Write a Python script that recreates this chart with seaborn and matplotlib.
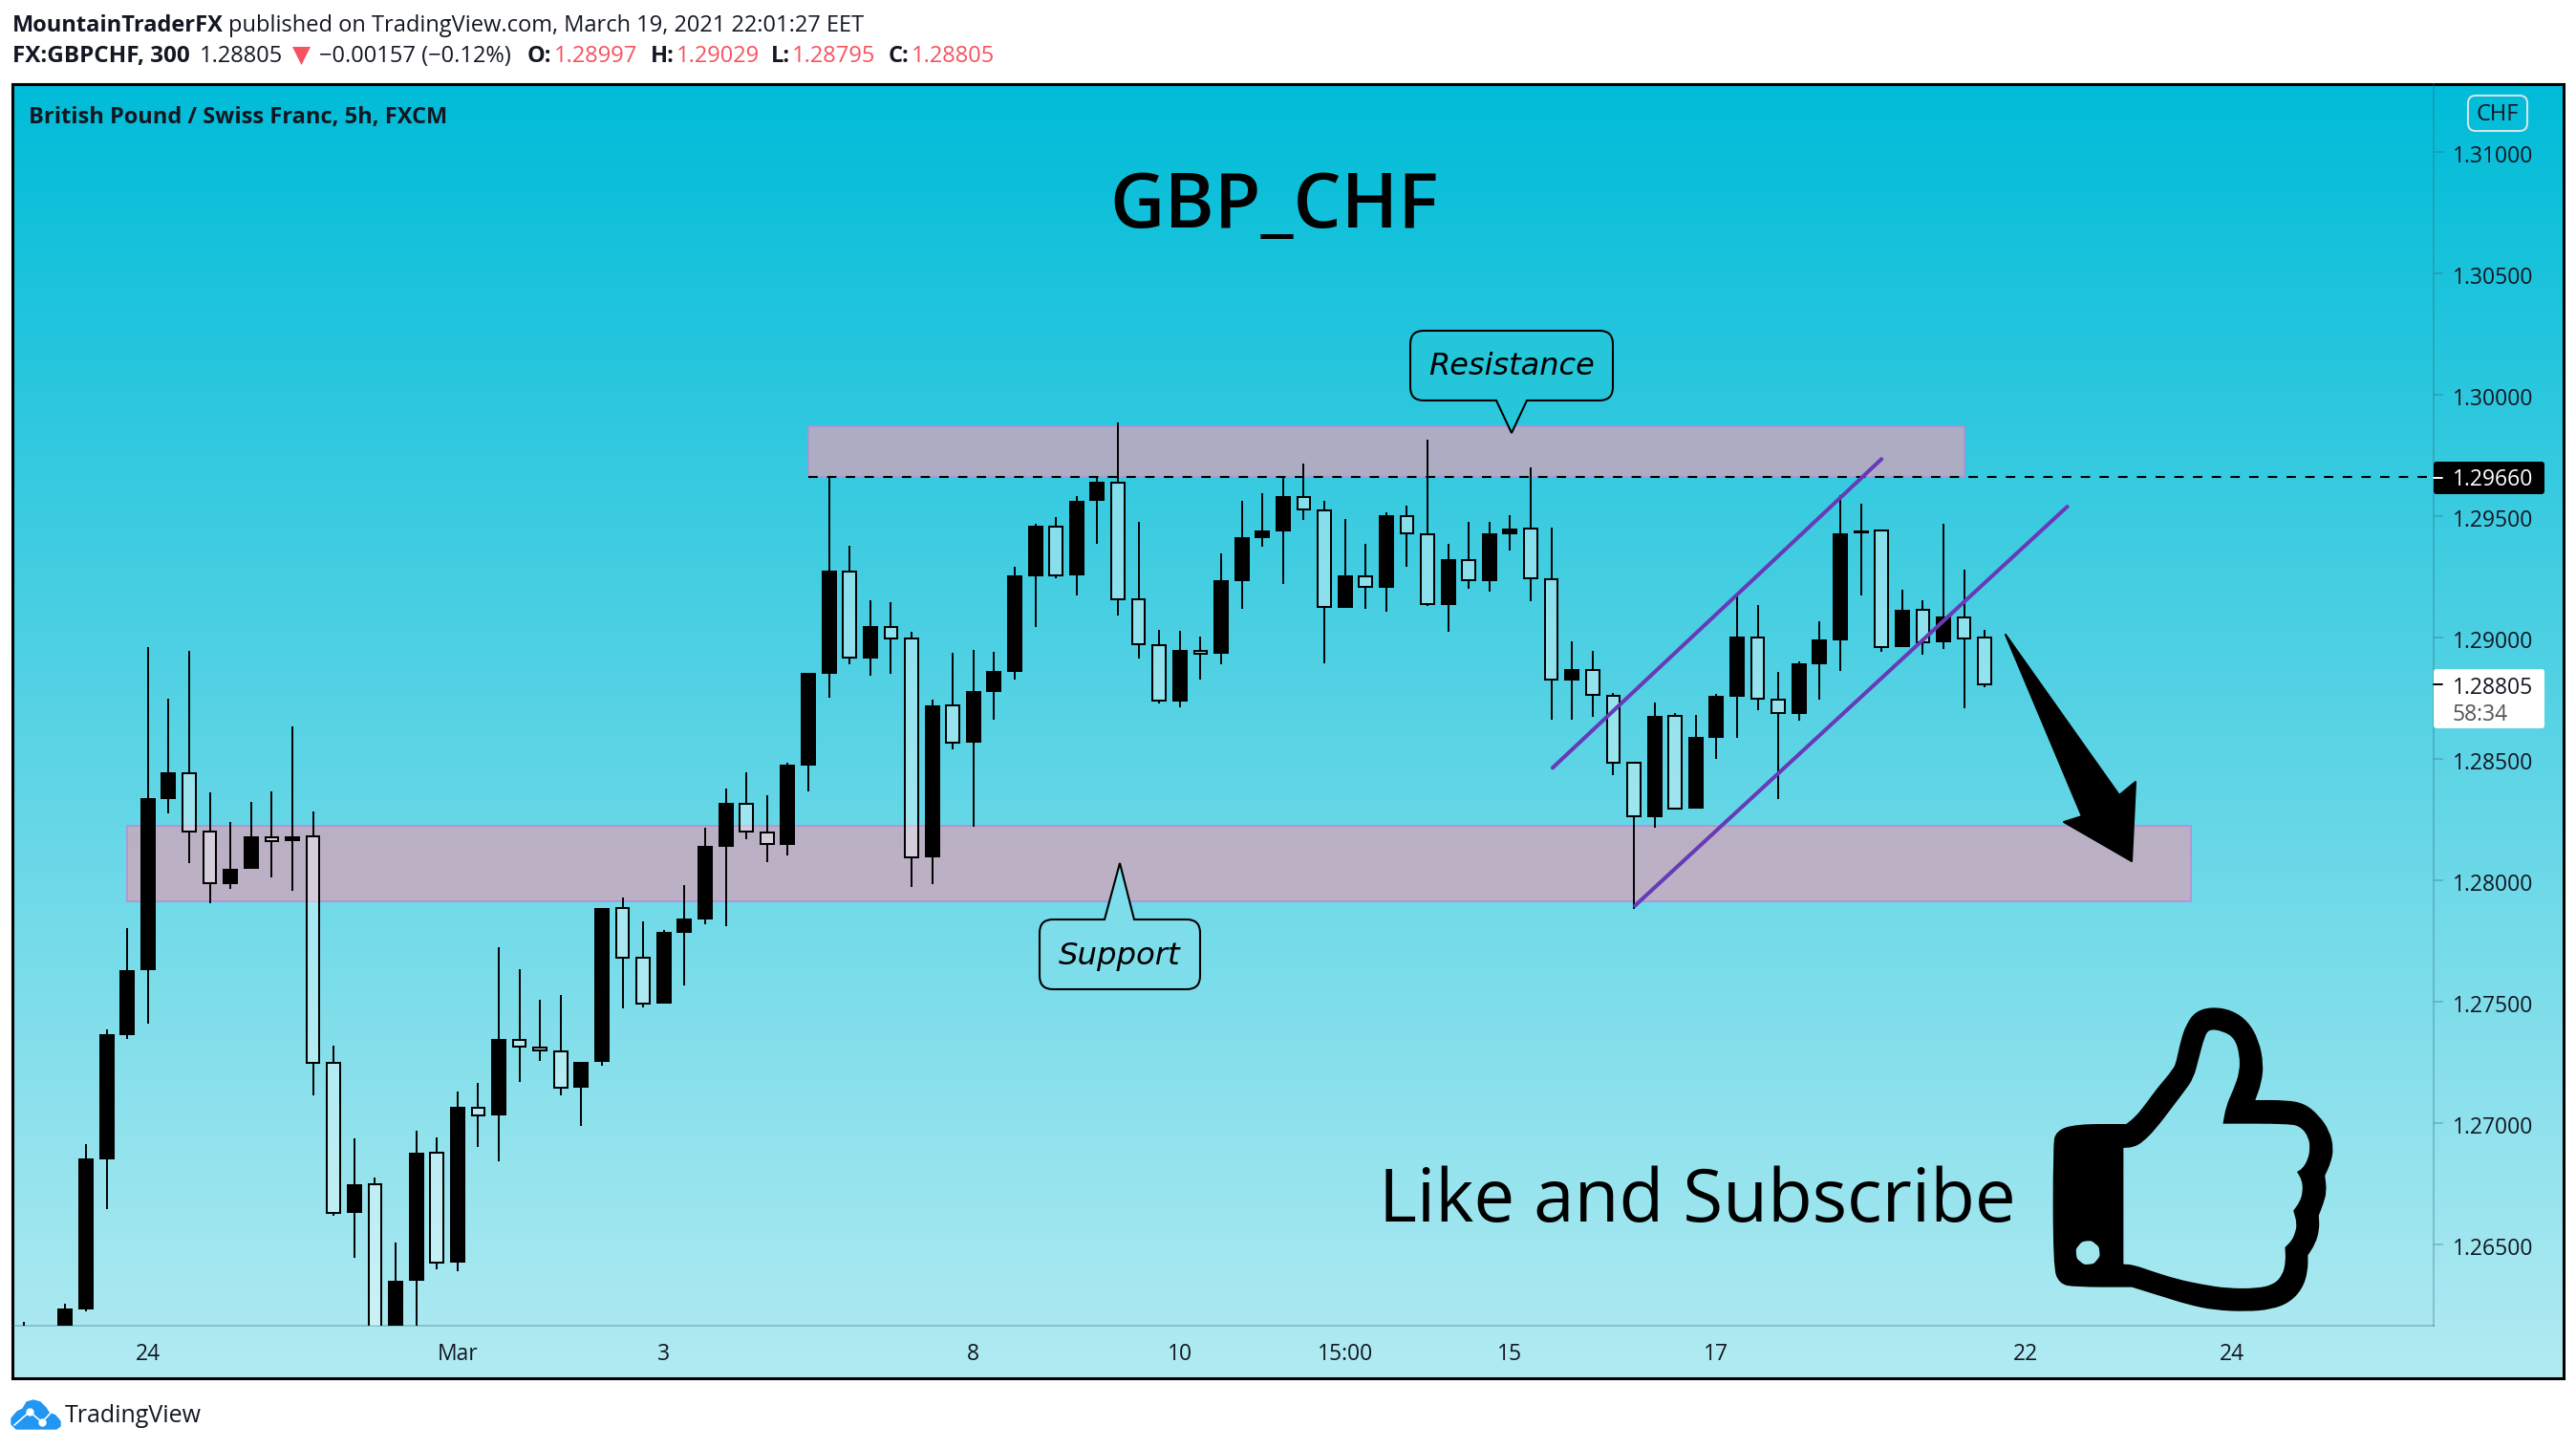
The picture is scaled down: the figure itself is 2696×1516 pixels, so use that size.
import numpy as np
import pandas as pd
import seaborn as sns
import matplotlib.pyplot as plt
from matplotlib.patches import FancyBboxPatch, PathPatch, Rectangle, Polygon
from matplotlib.path import Path
from matplotlib.transforms import ScaledTranslation

# bars of the 5h chart, index 0 is the bar under the "24" tick
first_bar = -6
opens = [1.2600, 1.2605, 1.2610, 1.26233, 1.26849, 1.27362, 1.27627, 1.28335, 1.28441, 1.28198, 1.27985, 1.28048,
         1.28177, 1.28159, 1.28179, 1.27245, 1.26628, 1.26746, 1.2605, 1.26348, 1.26875, 1.26423, 1.27063, 1.27029,
         1.27343, 1.2731, 1.27296, 1.27143, 1.27249, 1.27883, 1.27678, 1.2749, 1.27783, 1.27837, 1.28136, 1.28315,
         1.28197, 1.28146, 1.28472, 1.2885, 1.29272, 1.28914, 1.29043, 1.28994, 1.28094, 1.28718, 1.28564, 1.28774,
         1.28857, 1.29251, 1.29456, 1.29254, 1.2956, 1.29638, 1.29158, 1.28968, 1.28737, 1.28945, 1.2893, 1.29233,
         1.2941, 1.29437, 1.29579, 1.29524, 1.29122, 1.29251, 1.29205, 1.295, 1.29425, 1.29134, 1.29319, 1.29233,
         1.29425, 1.29447, 1.2924, 1.28821, 1.28866, 1.2876, 1.28482, 1.28258, 1.28675, 1.28294, 1.28586, 1.28756,
         1.29, 1.28744, 1.28685, 1.28888, 1.28988, 1.29426, 1.29439, 1.28958, 1.29113, 1.28978, 1.29083, 1.28997]
highs = [1.26178, 1.2612, 1.26256, 1.26912, 1.27384, 1.27803, 1.2896, 1.28747, 1.28944, 1.28361, 1.2824, 1.28322,
         1.28365, 1.28633, 1.28283, 1.27317, 1.26936, 1.26775, 1.26505, 1.26967, 1.26939, 1.27127, 1.27163, 1.27723,
         1.27633, 1.27507, 1.27527, 1.27251, 1.27885, 1.27928, 1.2783, 1.27795, 1.27979, 1.28215, 1.28377, 1.28444,
         1.28348, 1.28483, 1.28853, 1.2966, 1.29376, 1.29153, 1.29144, 1.29022, 1.28741, 1.28936, 1.28947, 1.28939,
         1.2929, 1.29468, 1.29494, 1.29582, 1.2966, 1.29884, 1.29475, 1.29029, 1.29026, 1.29002, 1.29345, 1.29562,
         1.29593, 1.29664, 1.29715, 1.29562, 1.29487, 1.29385, 1.29514, 1.29542, 1.29814, 1.29385, 1.29475, 1.29475,
         1.29503, 1.297, 1.29451, 1.28983, 1.28943, 1.28769, 1.28486, 1.28731, 1.28687, 1.2868, 1.28766, 1.29177,
         1.29133, 1.28857, 1.28902, 1.29066, 1.29584, 1.2955, 1.29443, 1.29196, 1.29153, 1.29468, 1.29279, 1.29029]
lows = [1.2590, 1.2595, 1.2605, 1.26223, 1.26646, 1.27347, 1.27407, 1.28273, 1.28071, 1.27903, 1.27965, 1.28048,
        1.28012, 1.27954, 1.27112, 1.26616, 1.26442, 1.2600, 1.2600, 1.2610, 1.26395, 1.26387, 1.26902, 1.2684,
        1.27167, 1.27253, 1.27112, 1.26988, 1.27237, 1.2747, 1.27474, 1.2749, 1.27564, 1.27816, 1.27811, 1.2817,
        1.28074, 1.28102, 1.28363, 1.28752, 1.2889, 1.28842, 1.2885, 1.27973, 1.27984, 1.2854, 1.28221, 1.28662,
        1.28825, 1.29043, 1.29244, 1.29174, 1.29386, 1.29089, 1.28914, 1.28728, 1.28713, 1.28825, 1.2889, 1.29118,
        1.29373, 1.2922, 1.29485, 1.28894, 1.29122, 1.29118, 1.29106, 1.29291, 1.2913, 1.29022, 1.29201, 1.29189,
        1.29358, 1.2915, 1.28662, 1.28662, 1.28673, 1.28433, 1.27882, 1.28216, 1.28291, 1.28294, 1.285, 1.28586,
        1.28701, 1.28334, 1.28658, 1.28744, 1.28862, 1.29174, 1.2894, 1.28958, 1.28928, 1.2895, 1.28709, 1.28795]
closes = [1.2610, 1.2610, 1.26237, 1.26853, 1.27364, 1.27629, 1.28337, 1.28443, 1.28198, 1.27987, 1.28048, 1.28181,
          1.28161, 1.28181, 1.27247, 1.26628, 1.26748, 1.2605, 1.2635, 1.26877, 1.26425, 1.27067, 1.27031, 1.27345,
          1.27313, 1.27298, 1.27145, 1.27251, 1.27885, 1.2768, 1.2749, 1.27787, 1.27842, 1.2814, 1.28318, 1.28198,
          1.28147, 1.28475, 1.28853, 1.29274, 1.28915, 1.29046, 1.28994, 1.28095, 1.2872, 1.28565, 1.28779, 1.2886,
          1.29254, 1.29459, 1.29255, 1.29562, 1.29641, 1.29158, 1.2897, 1.28738, 1.28947, 1.28931, 1.29234, 1.29411,
          1.2944, 1.29582, 1.29525, 1.29123, 1.29254, 1.29206, 1.29503, 1.29427, 1.29136, 1.29321, 1.29234, 1.29428,
          1.29448, 1.29241, 1.28824, 1.28869, 1.28762, 1.28482, 1.28261, 1.28676, 1.28295, 1.28589, 1.28759, 1.29002,
          1.28745, 1.28686, 1.28893, 1.28991, 1.29428, 1.29439, 1.28959, 1.29114, 1.28979, 1.29085, 1.28996, 1.28805]

price_ticks = [1.31, 1.305, 1.30, 1.295, 1.29, 1.285, 1.28, 1.275, 1.27, 1.265]
time_ticks = [0, 15, 25, 40, 50, 58, 66, 76, 91, 101]
time_labels = ["24", "Mar", "3", "8", "10", "15:00", "15", "17", "22", "24"]

resistance_zone = (32, 88, 1.2966, 1.2987)
support_zone = (-1, 99, 1.27911, 1.28224)
level = 1.2966
channel_upper = ([68.06, 84.0], [1.28462, 1.29734])
channel_lower = ([72.05, 93.0], [1.27894, 1.29538])

DARK = "#131722"
RED = "#F7525F"
FONT = "Open Sans"
AXIS = (0.16, 0.40, 0.48, 0.3)

# drawings, in picture pixels; a repeated point keeps a sharp corner
arrow_px = [(2099, 664), (2218, 832), (2235, 818), (2231, 901), (2160, 860), (2179, 854)]
thumb_outer = [(128, 600), (135, 550), (190, 528), (330, 528), (330, 528), (355, 505), (380, 470), (415, 415), (460, 355), (468, 330),
               (480, 265), (495, 215), (520, 175), (565, 160), (620, 170), (665, 205), (695, 265), (708, 340), (702, 400),
               (685, 453), (685, 453), (770, 453), (820, 463), (860, 500), (890, 550), (901, 605), (893, 650), (877, 690), (877, 690),
               (882, 740), (872, 780), (860, 815), (860, 815), (862, 860), (850, 905), (830, 940), (830, 940), (830, 990), (815, 1045),
               (780, 1088), (730, 1110), (660, 1117), (570, 1112), (500, 1095), (430, 1070), (345, 1040), (345, 1040), (190, 1040),
               (145, 1030), (128, 975)]
thumb_inner = [(322, 603), (322, 603), (350, 601), (375, 585), (410, 545), (460, 470), (490, 425), (515, 385), (530, 320), (545, 255),
               (558, 230), (595, 236), (628, 258), (642, 310), (642, 365), (625, 420), (605, 470), (596, 527), (596, 527),
               (780, 527), (812, 538), (832, 570), (836, 605), (830, 640), (815, 668), (800, 678), (800, 678), (814, 705), (816, 740),
               (808, 772), (790, 800), (790, 800), (800, 840), (795, 870), (785, 895), (767, 915), (767, 915), (769, 960), (760, 1003),
               (735, 1032), (690, 1044), (610, 1044), (540, 1032), (470, 1015), (400, 990), (350, 970), (322, 968), (322, 968)]

sns.set_theme(style="white")
plt.rcParams["font.family"] = [FONT, "DejaVu Sans"]

W, H = 2696, 1516
fig = plt.figure(figsize=(W / 100, H / 100), dpi=100, facecolor="white")


def box(l, t, r, b):
    return [l / W, 1 - b / H, (r - l) / W, (b - t) / H]


# gradient background and outer frame
bg = fig.add_axes(box(13, 88, 2683, 1442), zorder=0)
top_col = np.array([0, 188, 216]) / 255
bot_col = np.array([178, 235, 242]) / 255
grad = np.linspace(0, 1, 512)[:, None, None] * (bot_col - top_col)[None, None, :] + top_col
bg.imshow(grad, aspect="auto", extent=(0, 1, 0, 1))
bg.set_xticks([])
bg.set_yticks([])
for s in bg.spines.values():
    s.set_color("black")
    s.set_linewidth(2.2)

# chart area
ax = fig.add_axes(box(14, 88, 2547, 1387), zorder=1)
ax.patch.set_alpha(0)

df = pd.DataFrame({"i": np.arange(len(opens)) + first_bar, "o": opens, "h": highs, "l": lows, "c": closes})
df["top"] = df[["o", "c"]].max(axis=1)
df["bot"] = df[["o", "c"]].min(axis=1)
df["body"] = df["top"] - df["bot"]
up = df[df["c"] >= df["o"]]
down = df[df["c"] < df["o"]]

ax.vlines(df["i"], df["top"], df["h"], color="black", lw=1.4, zorder=3)
ax.vlines(df["i"], df["l"], df["bot"], color="black", lw=1.4, zorder=3)
sns.barplot(data=up, x="i", y="body", bottom=up["bot"], native_scale=True, orient="x", width=0.74,
            color="black", saturation=1, errorbar=None, linewidth=0, ax=ax, zorder=3)
sns.barplot(data=down, x="i", y="body", bottom=down["bot"], native_scale=True, orient="x", width=0.635,
            color="white", saturation=1, errorbar=None, linewidth=1.45, edgecolor="black", ax=ax, zorder=3)
for p in ax.containers[-1]:
    p.set_facecolor((1, 1, 1, 0.38))

# zones
for x0, x1, y0, y1 in [resistance_zone, support_zone]:
    ax.add_patch(Rectangle((x0, y0), x1 - x0, y1 - y0, facecolor=(215 / 255, 163 / 255, 185 / 255, 0.75),
                           edgecolor="#b58fd8", lw=1.2, zorder=2))

ax.plot([resistance_zone[0], 111], [level, level], color="black", lw=1.5, dashes=(4.7, 4.7), zorder=4)

# rising channel
sns.lineplot(x=channel_upper[0], y=channel_upper[1], color="#673AB7", lw=2.9, errorbar=None, ax=ax, zorder=5)
sns.lineplot(x=channel_lower[0], y=channel_lower[1], color="#673AB7", lw=2.9, errorbar=None, ax=ax, zorder=5)

ax.set_xlim((14 - 154.8) / 21.6, (2547 - 154.8) / 21.6)
ax.set_ylim(1.29 - (1387 - 666.7) / 25400, 1.29 + (666.7 - 88) / 25400)
ax.set_xlabel("")
ax.set_ylabel("")
ax.yaxis.tick_right()
ax.set_yticks(price_ticks, [f"{v:.5f}" for v in price_ticks])
ax.set_xticks(time_ticks, time_labels)
ax.tick_params(axis="both", length=7, width=1.4, color=AXIS, labelcolor=DARK, labelsize=16.5, pad=7)
ax.tick_params(axis="x", pad=6)
shift = ScaledTranslation(0, -1.5 / 72, fig.dpi_scale_trans)
for lab in ax.get_yticklabels():
    lab.set_transform(lab.get_transform() + shift)
for s in ["top", "left"]:
    ax.spines[s].set_visible(False)
for s in ["right", "bottom"]:
    ax.spines[s].set_color(AXIS)
    ax.spines[s].set_linewidth(1.4)

# overlay in pixels for the drawings and the page text
ov = fig.add_axes([0, 0, 1, 1], zorder=2)
ov.set_xlim(0, W)
ov.set_ylim(H, 0)
ov.axis("off")

# arrow
ov.add_patch(Polygon(arrow_px, closed=True, facecolor="black", edgecolor="black", lw=1.5, joinstyle="round"))


def smooth(points):
    # closed curve through the midpoints of the listed points
    pts = np.array(points, dtype=float)
    mids = (pts + np.roll(pts, -1, axis=0)) / 2
    verts = [mids[-1]]
    codes = [Path.MOVETO]
    for c, m in zip(pts, mids):
        verts += [c, m]
        codes += [Path.CURVE3, Path.CURVE3]
    return Path(verts, codes)


# thumb
tx = lambda p: (2100 + p[0] * 0.38, 1000 + p[1] * 0.3333)
outer = smooth([tx(p) for p in thumb_outer])
inner = smooth([tx(p) for p in thumb_inner][::-1])
hole = Path.circle(tx((224, 932)), 12.3)
thumb = Path.make_compound_path(outer, inner, Path(hole.vertices[::-1], hole.codes))
ov.add_patch(PathPatch(thumb, facecolor="black", edgecolor="none"))


def bubble(l, t, r, b, tail, r0=14):
    # rounded box with a pointer on its top or bottom side
    a, tip, c = tail
    pts = [(Path.MOVETO, (l + r0, t))]
    if tip[1] < t:
        pts += [(Path.LINETO, a), (Path.LINETO, tip), (Path.LINETO, c)]
    pts += [(Path.LINETO, (r - r0, t)), (Path.CURVE3, (r, t)), (Path.CURVE3, (r, t + r0)),
            (Path.LINETO, (r, b - r0)), (Path.CURVE3, (r, b)), (Path.CURVE3, (r - r0, b))]
    if tip[1] > b:
        pts += [(Path.LINETO, c), (Path.LINETO, tip), (Path.LINETO, a)]
    pts += [(Path.LINETO, (l + r0, b)), (Path.CURVE3, (l, b)), (Path.CURVE3, (l, b - r0)),
            (Path.LINETO, (l, t + r0)), (Path.CURVE3, (l, t)), (Path.CURVE3, (l + r0, t))]
    return Path([p[1] for p in pts], [p[0] for p in pts])


ov.add_patch(PathPatch(bubble(1476, 346, 1688, 419, ((1566, 419), (1582, 453), (1598, 419))),
                       facecolor="#26C6DA", edgecolor="black", lw=1.5))
ov.add_patch(PathPatch(bubble(1088, 962, 1256, 1035, ((1156, 962), (1172, 903), (1187, 962))),
                       facecolor="#7EDDEA", edgecolor="black", lw=1.5))
ov.text(1582, 383, "Resistance", family="DejaVu Sans", style="italic", fontsize=23, ha="center", va="center", color="black")
ov.text(1172, 1000, "Support", family="DejaVu Sans", style="italic", fontsize=23.3, ha="center", va="center", color="black")

ov.text(1334, 217, "GBP_CHF", fontsize=57, weight=600, ha="center", va="center", color="black")
ov.text(1776, 1258, "Like and Subscribe", fontsize=55, ha="center", va="center", color="black")
ov.text(30, 123, "British Pound / Swiss Franc, 5h, FXCM", fontsize=17, weight="bold", va="center", color=DARK)

# page header
ov.text(13, 27, "MountainTraderFX", fontsize=17, weight="bold", va="center", color=DARK)
ov.text(239, 27, "published on TradingView.com, March 19, 2021 22:01:27 EET", fontsize=17, va="center", color=DARK)
ov.text(13, 59, "FX:GBPCHF, 300", fontsize=17.5, weight="bold", va="center", color=DARK)
ov.text(209, 59, "1.28805", fontsize=17, va="center", color=DARK)
ov.add_patch(Polygon([(306, 49), (325, 49), (315.5, 68)], closed=True, facecolor=RED, edgecolor="none"))
ov.text(334, 59, "\u22120.00157 (\u22120.12%)", fontsize=17, va="center", color=DARK)
for x_lab, lab, x_val, val in [(552, "O:", 580, "1.28997"), (681, "H:", 708, "1.29029"),
                               (807, "L:", 829, "1.28795"), (930, "C:", 954, "1.28805")]:
    ov.text(x_lab, 59, lab, fontsize=17, weight="bold", va="center", color=DARK)
    ov.text(x_val, 59, val, fontsize=17, va="center", color=RED)

# price scale badges
ov.add_patch(FancyBboxPatch((2590, 107), 48, 23, boxstyle="round,pad=7,rounding_size=8", facecolor="none",
                            edgecolor="#D3E3EA", lw=1.5))
ov.text(2614, 120, "CHF", fontsize=17, color=DARK, ha="center", va="center")
ov.add_patch(FancyBboxPatch((2547, 483), 116, 34, boxstyle="round,pad=0,rounding_size=3", facecolor="black", edgecolor="none"))
ov.plot([2547, 2556], [499.5, 499.5], color="white", lw=1.4)
ov.text(2567, 502, "1.29660", fontsize=16.5, color="white", va="center")
ov.add_patch(FancyBboxPatch((2547, 700), 116, 62, boxstyle="round,pad=0,rounding_size=3", facecolor="white", edgecolor="none"))
ov.plot([2547, 2556], [716, 716], color="black", lw=1.4)
ov.text(2567, 720, "1.28805", fontsize=16.5, color=DARK, va="center")
ov.text(2567, 748, "58:34", fontsize=16.5, color="#555555", va="center")

# TradingView logo
ov.add_patch(Polygon([(12, 1490), (12, 1484), (18, 1477), (24, 1474), (28, 1467), (35, 1465), (42, 1467), (48, 1473), (51, 1478),
                      (58, 1481), (63, 1487), (63, 1492), (59, 1495), (17, 1495)], closed=True,
                     facecolor="#2196F3", edgecolor="#2196F3", lw=1, joinstyle="round"))
ov.plot([15, 31, 44, 56], [1491, 1477, 1488, 1475], color="white", lw=1.2)
ov.plot([31, 44], [1477, 1488], "o", color="white", ms=5)
ov.text(68, 1481, "TradingView", fontsize=18, color=DARK, va="center")

fig.savefig("out.png", dpi=100)
